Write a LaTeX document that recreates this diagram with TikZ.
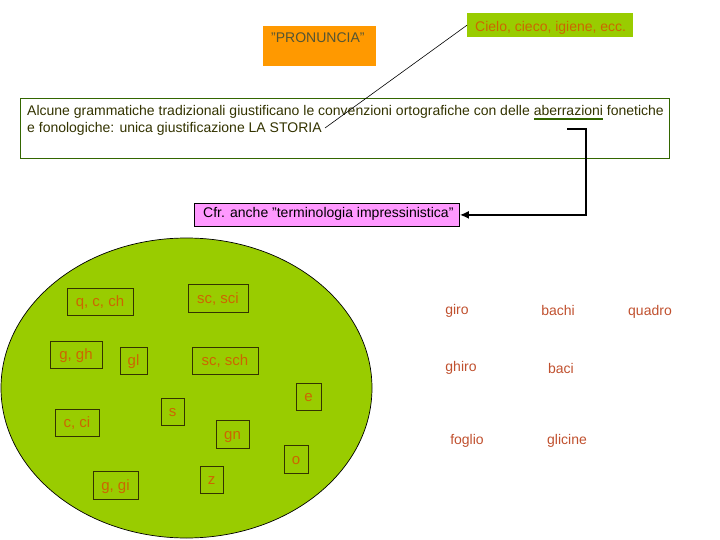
\documentclass[tikz,border=0pt]{standalone}
\usepackage{fontspec}
\setmainfont{Liberation Sans}
\usetikzlibrary{shapes.geometric,arrows.meta}
\definecolor{orangebox}{HTML}{FF9900}
\definecolor{greenbox}{HTML}{99CC00}
\definecolor{pinkbox}{HTML}{FF99FF}
\definecolor{pronText}{HTML}{555533}
\definecolor{cieloText}{HTML}{CC6600}
\definecolor{mainText}{HTML}{333300}
\definecolor{mainBorder}{HTML}{336600}
\definecolor{ulgreen}{HTML}{336600}
\definecolor{lblText}{HTML}{CC6600}
\definecolor{lblBorder}{HTML}{333300}
\definecolor{wordText}{HTML}{C0502E}
\newlength\ablen
\newcommand{\abul}[1]{\settowidth{\ablen}{#1}\leavevmode\rlap{\color{ulgreen}\rule[-3.8pt]{\ablen}{1.8pt}}#1}
\begin{document}
\begin{tikzpicture}[x=1pt,y=-1pt,
  txt/.style={font=\fontsize{14}{17}\selectfont, inner sep=0pt},
  maintxt/.style={txt, text=mainText},
  lbl/.style={draw=lblBorder, line width=0.8pt, text=lblText, font=\fontsize{15}{18}\selectfont,
    inner sep=0pt, text height=10pt, text depth=0pt},
  word/.style={txt, text=wordText},
  conn/.style={line width=2pt, black}]
\useasboundingbox (0,0) rectangle (720,540);
% top boxes
\node[fill=orangebox, minimum width=113pt, minimum height=40pt, inner sep=0pt, anchor=north west] (pron) at (263,26) {};
\node[txt, text=pronText, anchor=base west] (prontxt) at (271,43) {"PRONUNCIA"};
\node[fill=greenbox, minimum width=166pt, minimum height=24pt, inner sep=0pt, anchor=north west] (cielo) at (467,13) {};
\node[txt, text=cieloText, anchor=base west] (cielotxt) at (475,32) {Cielo, cieco, igiene, ecc.};
% main box
\node[draw=mainBorder, line width=0.8pt, minimum width=649pt, minimum height=60pt, inner sep=0pt, anchor=north west] (mainbox) at (20,98) {};
\node[maintxt, anchor=base west] (l1) at (27,116) {Alcune grammatiche tradizionali giustificano le convenzioni ortografiche con delle \abul{aberrazioni} fonetiche};
\node[maintxt, anchor=base west] (l2) at (27,133) {e fonologiche: unica giustificazione LA STORIA};
\coordinate (storia) at (325,128);
\draw[line width=0.6pt] (cielo.west) -- (storia);
% pink box
\node[draw=black, line width=0.8pt, fill=pinkbox, minimum width=265pt, minimum height=23pt, inner sep=0pt, anchor=north west] (pink) at (194,203) {};
\node[txt, text=black, anchor=base west] (pinktxt) at (203,218) {Cfr. anche "terminologia impressinistica"};
\coordinate (ab) at (567,129);
\draw[conn, -{Latex[length=9pt,width=8pt]}] (ab) -- ++(19,0) |- (pink.east);
% ellipse
\node[ellipse, draw=black, line width=0.7pt, fill=greenbox, minimum width=371pt, minimum height=300pt, inner sep=0pt] (set) at (186.5,388) {};
\node[lbl, minimum width=66pt, minimum height=27pt] (qcch) at (100,301.5) {q, c, ch};
\node[lbl, minimum width=60pt, minimum height=28pt] (scsci) at (218,298) {sc, sci};
\node[lbl, minimum width=52pt, minimum height=27pt] (ggh) at (76,354.5) {g, gh};
\node[lbl, minimum width=27pt, minimum height=27pt] (gl) at (133.5,360.5) {gl};
\node[lbl, minimum width=66pt, minimum height=27pt] (scsch) at (225,360.5) {sc, sch};
\node[lbl, minimum width=25pt, minimum height=27pt] (e) at (308.5,396.5) {e};
\node[lbl, minimum width=23pt, minimum height=27pt] (s) at (172.5,411.5) {s};
\node[lbl, minimum width=44pt, minimum height=27pt] (cci) at (77,422.5) {c, ci};
\node[lbl, minimum width=33pt, minimum height=28pt] (gn) at (232.5,434) {gn};
\node[lbl, minimum width=24pt, minimum height=28pt] (o) at (296,459) {o};
\node[lbl, minimum width=45pt, minimum height=28pt] (ggi) at (115.5,485) {g, gi};
\node[lbl, minimum width=23pt, minimum height=27pt] (z) at (211.5,479.5) {z};
% words
\node[word] (giro) at (457,311) {giro};
\node[word] (bachi) at (558,310) {bachi};
\node[word] (quadro) at (650,312) {quadro};
\node[word] (ghiro) at (461,368) {ghiro};
\node[word] (baci) at (561,368) {baci};
\node[word] (foglio) at (467,441) {foglio};
\node[word] (glicine) at (567,441) {glicine};
\end{tikzpicture}
\end{document}
